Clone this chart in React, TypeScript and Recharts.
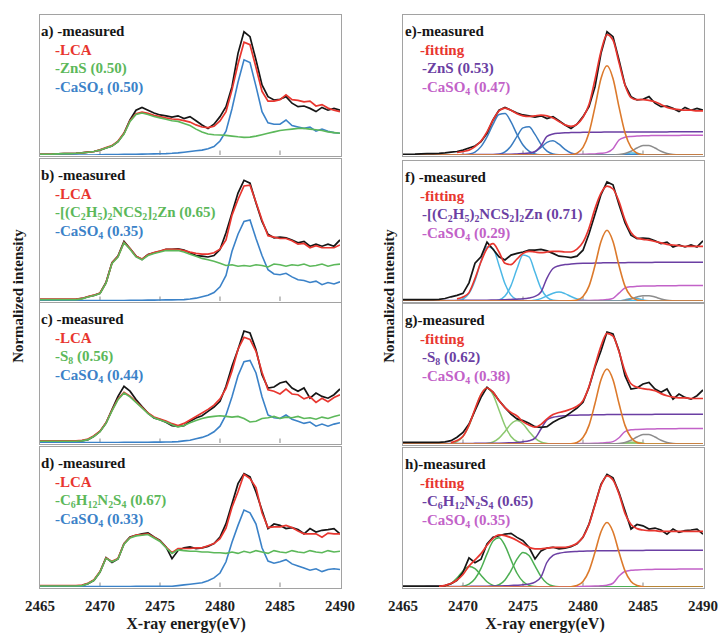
import React from 'react';
import { LineChart, Line, XAxis, YAxis, ReferenceLine } from 'recharts';

// ---------- shared energy grid (eV) ----------
const energy = [
  2465, 2465.5, 2466, 2466.5, 2467, 2467.5, 2468, 2468.5, 2469, 2469.5,
  2470, 2470.5, 2471, 2471.5, 2472, 2472.5, 2473, 2473.5, 2474, 2474.5,
  2475, 2475.5, 2476, 2476.5, 2477, 2477.5, 2478, 2478.5, 2479, 2479.5,
  2480, 2480.5, 2481, 2481.5, 2482, 2482.5, 2483, 2483.5, 2484, 2484.5,
  2485, 2485.5, 2486, 2486.5, 2487, 2487.5, 2488, 2488.5, 2489, 2489.5,
  2490,
];
const energyTicks = [2465, 2470, 2475, 2480, 2485, 2490];
const innerTicks = [2470, 2475, 2480, 2485];

// ---------- sample 1: ZnS + CaSO4 ----------
const measuredA = [
  0.5, 0.5, 0.6, 0.8, 1.0, 1.0, 1.2, 1.5, 2.0, 2.5,
  3.5, 5.0, 6.4, 9.5, 15.5, 25.0, 32.0, 34.0, 32.0, 30.0,
  28.6, 28.0, 27.0, 28.0, 26.0, 27.4, 24.5, 21.4, 19.0, 22.0,
  27.4, 34.5, 48.8, 72.6, 88.0, 84.5, 67.8, 50.0, 41.7, 39.3,
  39.8, 41.7, 37.0, 34.5, 35.0, 33.3, 31.0, 34.0, 32.0, 33.3,
  32.0,
];
const lcaA = [
  0.5, 0.5, 0.6, 0.8, 1.0, 1.0, 1.2, 1.5, 2.0, 2.5,
  3.7, 5.3, 6.7, 9.9, 15.5, 24.5, 29.5, 30.6, 29.7, 28.3,
  27.4, 26.5, 25.7, 25.5, 24.5, 23.5, 21.5, 20.0, 19.5, 20.5,
  24.3, 31.0, 46.5, 65.0, 80.6, 78.8, 62.5, 45.5, 38.5, 38.5,
  39.5, 43.0, 39.5, 39.0, 38.0, 38.5, 35.0, 36.0, 33.5, 32.0,
  31.0,
];
const zincSulfideA = [
  0.5, 0.5, 0.6, 0.8, 1.0, 1.0, 1.2, 1.5, 2.0, 2.5,
  3.5, 5.0, 6.4, 9.5, 15.0, 24.0, 29.0, 30.0, 29.0, 27.5,
  26.5, 25.5, 24.5, 24.0, 22.5, 21.0, 18.5, 16.5, 15.0, 14.5,
  14.3, 14.0, 13.5, 13.0, 12.6, 12.8, 13.5, 14.5, 15.5, 16.5,
  17.5, 18.0, 18.5, 19.0, 19.0, 18.5, 18.0, 17.5, 16.5, 16.0,
  15.5,
];
const gypsumA = [
  0, 0, 0, 0, 0, 0, 0, 0, 0, 0,
  0.2, 0.3, 0.3, 0.4, 0.5, 0.5, 0.5, 0.6, 0.7, 0.8,
  0.9, 1.0, 1.2, 1.5, 2.0, 2.5, 3.0, 3.5, 4.5, 6.0,
  10.0, 17.0, 33.0, 52.0, 68.0, 66.0, 49.0, 31.0, 23.0, 22.0,
  22.0, 25.0, 21.0, 20.0, 19.0, 20.0, 17.0, 18.5, 17.0, 16.0,
  15.5,
];

// ---------- sample 2: zinc diethyldithiocarbamate + CaSO4 ----------
const measuredB = [
  1.0, 1.0, 1.0, 1.0, 1.0, 1.0, 1.2, 1.8, 3.0, 4.0,
  5.5, 13.0, 27.0, 31.6, 42.0, 37.0, 31.6, 29.3, 32.8, 34.0,
  35.0, 36.3, 36.3, 36.8, 35.8, 34.0, 32.0, 31.6, 31.0, 32.0,
  36.3, 48.0, 62.0, 76.0, 85.0, 83.0, 69.0, 56.0, 47.0, 44.5,
  45.0, 44.5, 43.0, 41.0, 42.0, 38.6, 40.0, 38.6, 40.0, 38.6,
  43.0,
];
const lcaB = [
  1.3, 1.3, 1.3, 1.3, 1.3, 1.3, 1.3, 1.8, 3.1, 4.1,
  5.6, 12.8, 26.8, 31.4, 41.4, 37.0, 31.5, 29.5, 32.6, 34.1,
  35.2, 36.3, 36.3, 36.4, 35.5, 34.4, 33.5, 33.0, 33.0, 34.0,
  36.5, 43.0, 60.5, 71.5, 81.0, 81.5, 69.5, 57.0, 46.0, 45.0,
  44.0, 44.0, 42.5, 40.0, 40.5, 37.5, 39.0, 37.5, 37.5, 37.5,
  39.5,
];
const zincDtcB = [
  1.0, 1.0, 1.0, 1.0, 1.0, 1.0, 1.0, 1.5, 2.8, 3.8,
  5.3, 12.5, 26.5, 31.0, 41.0, 36.5, 31.0, 29.0, 32.0, 33.5,
  34.5, 35.5, 35.5, 35.5, 34.5, 33.0, 31.5, 30.0, 29.0, 28.0,
  26.5, 25.0, 25.5, 24.5, 25.0, 24.5, 25.5, 25.0, 24.0, 26.0,
  25.5, 24.5, 25.5, 25.0, 26.0, 24.5, 25.0, 26.0, 24.5, 25.5,
  26.0,
];
const gypsumB = [
  0.3, 0.3, 0.3, 0.3, 0.3, 0.3, 0.3, 0.3, 0.3, 0.3,
  0.3, 0.3, 0.3, 0.4, 0.4, 0.5, 0.5, 0.5, 0.6, 0.6,
  0.7, 0.8, 0.8, 0.9, 1.0, 1.4, 2.0, 3.0, 4.0, 6.0,
  10.0, 18.0, 35.0, 47.0, 56.0, 57.0, 44.0, 32.0, 22.0, 19.0,
  18.5, 19.5, 17.0, 15.0, 14.5, 13.0, 14.0, 11.5, 13.0, 12.0,
  13.5,
];

// ---------- sample 3: S8 + CaSO4 ----------
const measuredC = [
  1.2, 1.2, 1.2, 1.2, 1.2, 1.2, 1.2, 1.5, 2.4, 4.8,
  8.3, 14.3, 23.8, 33.3, 40.5, 37.0, 31.0, 26.0, 21.4, 17.9,
  16.7, 14.8, 12.4, 11.9, 12.4, 15.5, 17.9, 19.5, 22.6, 25.7,
  29.8, 40.5, 54.8, 66.7, 80.0, 78.6, 66.7, 48.8, 39.3, 40.0,
  42.9, 44.0, 39.3, 36.9, 39.3, 32.0, 35.7, 33.3, 32.0, 34.5,
  38.6,
];
const lcaC = [
  1.6, 1.6, 1.6, 1.6, 1.6, 1.6, 1.6, 1.9, 2.8, 5.2,
  8.4, 14.4, 23.4, 31.4, 36.2, 33.5, 29.5, 25.5, 21.5, 18.6,
  17.1, 15.7, 13.8, 12.5, 14.0, 16.5, 19.0, 21.5, 24.0, 27.0,
  31.5, 39.0, 51.5, 67.0, 75.5, 74.0, 65.5, 50.5, 38.0, 37.0,
  35.0, 38.5, 35.0, 34.5, 31.5, 33.0, 29.0, 32.0, 29.5, 32.5,
  34.5,
];
const sulfurC = [
  1.2, 1.2, 1.2, 1.2, 1.2, 1.2, 1.2, 1.5, 2.4, 4.8,
  8.0, 14.0, 23.0, 31.0, 35.7, 33.0, 29.0, 25.0, 21.0, 18.0,
  16.5, 15.0, 13.0, 11.5, 12.5, 14.5, 16.0, 17.5, 18.5, 19.0,
  19.5, 19.0, 18.5, 19.0, 17.5, 15.0, 15.5, 17.5, 18.0, 19.0,
  17.5, 18.5, 18.0, 19.0, 17.5, 18.0, 17.0, 18.5, 17.5, 19.0,
  20.0,
];
const gypsumC = [
  0.4, 0.4, 0.4, 0.4, 0.4, 0.4, 0.4, 0.4, 0.4, 0.4,
  0.4, 0.4, 0.4, 0.4, 0.5, 0.5, 0.5, 0.5, 0.5, 0.6,
  0.6, 0.7, 0.8, 1.0, 1.5, 2.0, 3.0, 4.0, 5.5, 8.0,
  12.0, 20.0, 33.0, 48.0, 58.0, 59.0, 50.0, 33.0, 20.0, 18.0,
  17.5, 20.0, 17.0, 15.5, 14.0, 15.0, 12.0, 13.5, 12.0, 13.5,
  14.5,
];

// ---------- sample 4: C6H12N2S4 + CaSO4 ----------
const measuredD = [
  0.7, 0.7, 0.7, 0.7, 0.7, 0.7, 0.7, 1.0, 2.4, 4.8,
  10.7, 21.0, 17.5, 20.0, 31.0, 35.7, 36.9, 38.0, 38.6, 35.7,
  33.3, 28.6, 20.2, 26.0, 28.0, 28.6, 27.4, 28.0, 29.0, 31.0,
  35.7, 45.2, 59.5, 73.8, 81.0, 78.6, 67.9, 54.8, 41.7, 45.0,
  44.0, 41.7, 42.4, 41.0, 38.0, 41.7, 39.3, 40.5, 41.0, 41.7,
  38.0,
];
const lcaD = [
  1.0, 1.0, 1.0, 1.0, 1.0, 1.0, 1.0, 1.3, 2.7, 5.1,
  11.0, 20.8, 18.3, 20.4, 30.9, 35.4, 37.0, 37.5, 38.0, 35.5,
  33.0, 28.5, 24.5, 27.5, 27.5, 27.5, 28.0, 28.0, 29.5, 31.0,
  34.5, 42.0, 57.0, 68.0, 80.5, 77.5, 71.0, 53.0, 42.5, 43.0,
  43.0, 44.0, 42.5, 40.0, 38.0, 38.0, 38.0, 35.5, 38.5, 38.0,
  38.0,
];
const dithiaD = [
  0.7, 0.7, 0.7, 0.7, 0.7, 0.7, 0.7, 1.0, 2.4, 4.8,
  10.7, 20.5, 18.0, 20.0, 30.5, 35.0, 36.5, 37.0, 37.5, 35.0,
  32.5, 28.0, 24.0, 26.5, 26.0, 25.5, 25.5, 25.0, 25.0, 24.5,
  24.5, 24.0, 25.0, 24.0, 25.5, 24.5, 26.0, 25.0, 24.0, 26.0,
  25.0, 24.5, 26.0, 25.0, 24.5, 26.0, 25.0, 24.5, 26.0, 25.0,
  25.5,
];
const gypsumD = [
  0.3, 0.3, 0.3, 0.3, 0.3, 0.3, 0.3, 0.3, 0.3, 0.3,
  0.3, 0.3, 0.3, 0.4, 0.4, 0.4, 0.5, 0.5, 0.5, 0.5,
  0.5, 0.5, 0.5, 1.0, 1.5, 2.0, 2.5, 3.0, 4.5, 6.5,
  10.0, 18.0, 32.0, 44.0, 55.0, 53.0, 45.0, 28.0, 18.5, 17.0,
  18.0, 19.5, 16.5, 15.0, 13.5, 12.0, 13.0, 11.0, 12.5, 13.0,
  12.5,
];

// ---------- peak fitting, sample 1 ----------
const fitE = [
  null, null, null, null, null, null, null, null, null, 1.8,
  2.5, 3.5, 6.0, 10.0, 16.5, 25.0, 31.5, 33.5, 32.0, 29.5,
  28.0, 27.5, 28.0, 28.5, 28.0, 26.5, 24.0, 21.5, 20.5, 22.0,
  27.0, 36.0, 54.0, 74.0, 86.0, 82.0, 66.0, 50.0, 41.0, 39.5,
  39.5, 39.0, 38.0, 36.0, 34.0, 33.0, 32.5, 32.0, 32.0, 31.5,
  31.5,
];
const peakE1 = [
  0, 0, 0, 0, 0, 0, 0, 0, 0, 0,
  0, 0.6, 2.1, 6.0, 13.0, 21.9, 28.9, 29.6, 23.6, 14.7,
  7.1, 2.7, 0.8, 0.2, 0, 0, 0, 0, 0, 0,
  0, 0, 0, 0, 0, 0, 0, 0, 0, 0,
  0, 0, 0, 0, 0, 0, 0, 0, 0, 0,
  0,
];
const peakE2 = [
  0, 0, 0, 0, 0, 0, 0, 0, 0, 0,
  0, 0, 0, 0, 0, 0, 0.5, 2.2, 6.4, 13.3,
  19.4, 20.1, 14.7, 7.6, 2.8, 0.7, 0.1, 0, 0, 0,
  0, 0, 0, 0, 0, 0, 0, 0, 0, 0,
  0, 0, 0, 0, 0, 0, 0, 0, 0, 0,
  0,
];
const peakE3 = [
  0, 0, 0, 0, 0, 0, 0, 0, 0, 0,
  0, 0, 0, 0, 0, 0, 0, 0, 0, 0,
  0, 0.6, 2.2, 5.4, 9.0, 10.1, 7.7, 4.0, 1.4, 0.3,
  0, 0, 0, 0, 0, 0, 0, 0, 0, 0,
  0, 0, 0, 0, 0, 0, 0, 0, 0, 0,
  0,
];
const peakE4 = [
  0, 0, 0, 0, 0, 0, 0, 0, 0, 0,
  0, 0, 0, 0, 0, 0, 0, 0, 0, 0,
  0, 0, 0, 0, 0, 0, 0, 0, 0, 0,
  0, 0, 0, 0, 0, 0, 0, 0.5, 1.4, 1.2,
  0.3, 0, 0, 0, 0, 0, 0, 0, 0, 0,
  0,
];
const peakE5 = [
  0, 0, 0, 0, 0, 0, 0, 0, 0, 0,
  0, 0, 0, 0, 0, 0, 0, 0, 0, 0,
  0, 0, 0, 0, 0, 0, 0, 0, 0, 0,
  0, 0, 0, 0, 0, 0, 0.3, 1.1, 2.7, 5.0,
  6.8, 6.8, 5.0, 2.7, 1.1, 0.3, 0, 0, 0, 0,
  0,
];
const whiteLineE = [
  0, 0, 0, 0, 0, 0, 0, 0, 0, 0,
  0, 0, 0, 0, 0, 0, 0, 0, 0, 0,
  0, 0, 0, 0, 0, 0, 0, 0, 0.2, 1.3,
  5.4, 15.9, 34.4, 54.7, 63.8, 54.7, 34.4, 15.9, 5.4, 1.3,
  0.2, 0, 0, 0, 0, 0, 0, 0, 0, 0,
  0,
];
const stepE = [
  0.1, 0.1, 0.1, 0.1, 0.2, 0.2, 0.2, 0.2, 0.2, 0.2,
  0.3, 0.3, 0.3, 0.4, 0.4, 0.4, 0.5, 0.5, 0.6, 0.8,
  1.0, 1.4, 2.5, 6.6, 13.3, 15.0, 15.6, 15.9, 16.0, 16.1,
  16.2, 16.3, 16.3, 16.3, 16.4, 16.4, 16.4, 16.4, 16.5, 16.5,
  16.5, 16.5, 16.5, 16.5, 16.5, 16.6, 16.6, 16.6, 16.6, 16.6,
  16.6,
];
const stepCaE = [
  0.1, 0.1, 0.1, 0.1, 0.1, 0.1, 0.1, 0.1, 0.1, 0.1,
  0.1, 0.1, 0.1, 0.1, 0.1, 0.1, 0.1, 0.1, 0.1, 0.1,
  0.2, 0.2, 0.2, 0.2, 0.2, 0.2, 0.2, 0.2, 0.4, 0.4,
  0.5, 0.7, 0.8, 1.2, 1.9, 4.5, 10.7, 12.7, 13.3, 13.5,
  13.7, 13.8, 13.9, 13.9, 14.0, 14.0, 14.0, 14.1, 14.1, 14.1,
  14.1,
];

// ---------- peak fitting, sample 2 ----------
const fitF = [
  null, null, null, null, null, null, null, null, null, 1.5,
  2.8, 6.0, 16.0, 28.0, 37.5, 41.0, 35.0, 27.0, 26.0, 30.0,
  34.0, 35.5, 35.0, 34.5, 35.0, 35.5, 35.5, 35.0, 35.0, 37.0,
  42.0, 52.0, 66.0, 77.0, 82.0, 80.0, 71.0, 58.0, 49.0, 45.0,
  44.0, 43.5, 42.5, 41.5, 40.5, 40.0, 39.5, 39.0, 39.0, 39.0,
  39.0,
];
const peakF1 = [
  0, 0, 0, 0, 0, 0, 0, 0, 0, 0.3,
  1.4, 5.4, 14.7, 28.4, 38.7, 37.4, 25.6, 12.3, 4.2, 1.0,
  0.2, 0, 0, 0, 0, 0, 0, 0, 0, 0,
  0, 0, 0, 0, 0, 0, 0, 0, 0, 0,
  0, 0, 0, 0, 0, 0, 0, 0, 0, 0,
  0,
];
const peakF2 = [
  0, 0, 0, 0, 0, 0, 0, 0, 0, 0,
  0, 0, 0, 0, 0, 0.1, 0.8, 3.5, 11.0, 23.0,
  32.8, 31.5, 20.5, 9.0, 2.7, 0.5, 0.1, 0, 0, 0,
  0, 0, 0, 0, 0, 0, 0, 0, 0, 0,
  0, 0, 0, 0, 0, 0, 0, 0, 0, 0,
  0,
];
const peakF3 = [
  0, 0, 0, 0, 0, 0, 0, 0, 0, 0,
  0, 0, 0, 0, 0, 0, 0, 0, 0, 0,
  0, 0, 0.6, 1.7, 3.7, 5.6, 6.4, 5.3, 3.2, 1.5,
  0.5, 0.1, 0, 0, 0, 0, 0, 0, 0, 0,
  0, 0, 0, 0, 0, 0, 0, 0, 0, 0,
  0,
];
const peakF4 = [
  0, 0, 0, 0, 0, 0, 0, 0, 0, 0,
  0, 0, 0, 0, 0, 0, 0, 0, 0, 0,
  0, 0, 0, 0, 0, 0, 0, 0, 0, 0,
  0, 0, 0, 0, 0, 0, 0, 0.8, 1.8, 1.8,
  0.8, 0.2, 0, 0, 0, 0, 0, 0, 0, 0,
  0,
];
const peakF5 = [
  0, 0, 0, 0, 0, 0, 0, 0, 0, 0,
  0, 0, 0, 0, 0, 0, 0, 0, 0, 0,
  0, 0, 0, 0, 0, 0, 0, 0, 0, 0,
  0, 0, 0, 0, 0, 0, 0, 0.6, 1.5, 2.8,
  3.8, 3.8, 2.8, 1.5, 0.6, 0.2, 0, 0, 0, 0,
  0,
];
const whiteLineF = [
  0, 0, 0, 0, 0, 0, 0, 0, 0, 0,
  0, 0, 0, 0, 0, 0, 0, 0, 0, 0,
  0, 0, 0, 0, 0, 0, 0, 0, 0.1, 0.7,
  3.2, 10.6, 25.3, 42.5, 50.5, 42.5, 25.3, 10.6, 3.2, 0.7,
  0.1, 0, 0, 0, 0, 0, 0, 0, 0, 0,
  0,
];
const stepF = [
  0.3, 0.3, 0.3, 0.3, 0.3, 0.4, 0.4, 0.4, 0.4, 0.4,
  0.45, 0.5, 0.5, 0.55, 0.6, 0.7, 0.8, 0.9, 1.1, 1.3,
  1.6, 2.2, 3.3, 6.4, 16.4, 23.2, 25.2, 26.0, 26.4, 26.7,
  26.9, 27.0, 27.1, 27.2, 27.3, 27.3, 27.4, 27.4, 27.5, 27.5,
  27.5, 27.5, 27.6, 27.6, 27.6, 27.6, 27.6, 27.7, 27.7, 27.7,
  27.7,
];
const stepCaF = [
  0.1, 0.1, 0.1, 0.1, 0.1, 0.1, 0.1, 0.1, 0.1, 0.1,
  0.1, 0.1, 0.1, 0.1, 0.1, 0.1, 0.1, 0.1, 0.1, 0.1,
  0.2, 0.2, 0.2, 0.2, 0.2, 0.2, 0.2, 0.2, 0.2, 0.2,
  0.35, 0.4, 0.5, 0.7, 1.0, 1.9, 5.6, 9.3, 10.2, 10.5,
  10.7, 10.7, 10.8, 10.9, 10.9, 10.9, 11.0, 11.0, 11.0, 11.0,
  11.0,
];

// ---------- peak fitting, sample 3 ----------
const fitG = [
  null, null, null, null, null, null, null, null, 1.0, 2.5,
  5.5, 13.5, 25.0, 35.5, 40.0, 37.0, 31.0, 26.0, 22.5, 20.0,
  16.0, 13.5, 12.0, 14.0, 18.0, 21.0, 22.5, 23.5, 25.0, 27.0,
  31.0, 41.0, 56.0, 70.0, 79.0, 77.0, 66.0, 52.0, 43.0, 40.5,
  39.5, 39.0, 38.0, 36.0, 34.5, 33.5, 33.0, 33.0, 32.5, 32.5,
  32.5,
];
const peakG1 = [
  0, 0, 0, 0, 0, 0, 0, 0, 0.4, 1.8,
  5.4, 13.0, 24.3, 35.3, 40.0, 35.3, 24.3, 13.0, 5.4, 1.8,
  0.4, 0, 0, 0, 0, 0, 0, 0, 0, 0,
  0, 0, 0, 0, 0, 0, 0, 0, 0, 0,
  0, 0, 0, 0, 0, 0, 0, 0, 0, 0,
  0,
];
const peakG2 = [
  0, 0, 0, 0, 0, 0, 0, 0, 0, 0,
  0, 0, 0, 0, 0.4, 1.4, 4.2, 9.0, 14.3, 16.7,
  14.3, 9.0, 4.2, 1.4, 0.4, 0, 0, 0, 0, 0,
  0, 0, 0, 0, 0, 0, 0, 0, 0, 0,
  0, 0, 0, 0, 0, 0, 0, 0, 0, 0,
  0,
];
const peakG3 = [
  0, 0, 0, 0, 0, 0, 0, 0, 0, 0,
  0, 0, 0, 0, 0, 0, 0, 0, 0, 0,
  0, 0, 0, 0, 0, 0, 0, 0, 0, 0,
  0, 0, 0, 0, 0, 0, 0, 0.5, 1.3, 1.3,
  0.5, 0, 0, 0, 0, 0, 0, 0, 0, 0,
  0,
];
const peakG4 = [
  0, 0, 0, 0, 0, 0, 0, 0, 0, 0,
  0, 0, 0, 0, 0, 0, 0, 0, 0, 0,
  0, 0, 0, 0, 0, 0, 0, 0, 0, 0,
  0, 0, 0, 0, 0, 0, 0.3, 1.1, 2.7, 5.0,
  6.8, 6.8, 5.0, 2.7, 1.1, 0.3, 0, 0, 0, 0,
  0,
];
const whiteLineG = [
  0, 0, 0, 0, 0, 0, 0, 0, 0, 0,
  0, 0, 0, 0, 0, 0, 0, 0, 0, 0,
  0, 0, 0, 0, 0, 0, 0, 0, 0.2, 1.1,
  4.6, 13.3, 28.9, 45.9, 53.6, 45.9, 28.9, 13.3, 4.6, 1.1,
  0.2, 0, 0, 0, 0, 0, 0, 0, 0, 0,
  0,
];
const stepG = [
  0.2, 0.2, 0.2, 0.2, 0.3, 0.3, 0.3, 0.3, 0.3, 0.35,
  0.4, 0.4, 0.45, 0.5, 0.5, 0.55, 0.6, 0.7, 0.9, 1.1,
  1.6, 2.3, 4.2, 10.7, 17.2, 19.1, 19.8, 20.2, 20.5, 20.6,
  20.7, 20.8, 20.9, 20.9, 21.0, 21.0, 21.0, 21.0, 21.1, 21.1,
  21.1, 21.1, 21.2, 21.2, 21.2, 21.2, 21.2, 21.2, 21.2, 21.2,
  21.2,
];
const stepCaG = [
  0.1, 0.1, 0.1, 0.1, 0.1, 0.1, 0.1, 0.1, 0.1, 0.1,
  0.1, 0.1, 0.1, 0.1, 0.1, 0.1, 0.1, 0.1, 0.1, 0.1,
  0.2, 0.2, 0.2, 0.2, 0.2, 0.2, 0.2, 0.2, 0.2, 0.2,
  0.35, 0.4, 0.5, 0.7, 1.0, 1.7, 4.5, 8.9, 10.1, 10.4,
  10.6, 10.7, 10.8, 10.9, 10.9, 10.9, 11.0, 11.0, 11.0, 11.0,
  11.0,
];

// ---------- peak fitting, sample 4 ----------
const fitH = [
  null, null, null, null, null, null, 0.5, 1.2, 2.5, 5.0,
  9.0, 15.0, 19.5, 24.0, 30.0, 35.0, 37.5, 37.0, 35.5, 33.5,
  31.0, 28.5, 27.5, 27.5, 28.0, 28.5, 28.5, 28.5, 29.5, 31.5,
  36.0, 45.0, 59.0, 73.0, 80.0, 77.0, 67.0, 53.0, 45.0, 42.0,
  41.0, 40.5, 40.5, 40.0, 40.0, 40.0, 40.0, 40.0, 40.0, 40.0,
  40.0,
];
const peakH1 = [
  0, 0, 0, 0, 0, 0, 0, 0.7, 2.5, 6.4,
  11.5, 14.7, 13.2, 8.5, 3.8, 1.2, 0.3, 0, 0, 0,
  0, 0, 0, 0, 0, 0, 0, 0, 0, 0,
  0, 0, 0, 0, 0, 0, 0, 0, 0, 0,
  0, 0, 0, 0, 0, 0, 0, 0, 0, 0,
  0,
];
const peakH2 = [
  0, 0, 0, 0, 0, 0, 0, 0, 0, 0,
  0.5, 2.0, 5.9, 13.4, 23.8, 33.0, 35.5, 29.8, 19.5, 9.9,
  3.9, 1.2, 0.3, 0, 0, 0, 0, 0, 0, 0,
  0, 0, 0, 0, 0, 0, 0, 0, 0, 0,
  0, 0, 0, 0, 0, 0, 0, 0, 0, 0,
  0,
];
const peakH3 = [
  0, 0, 0, 0, 0, 0, 0, 0, 0, 0,
  0, 0, 0, 0, 0, 0.4, 1.6, 5.1, 11.8, 20.0,
  24.8, 22.6, 15.2, 7.5, 2.7, 0.7, 0.1, 0, 0, 0,
  0, 0, 0, 0, 0, 0, 0, 0, 0, 0,
  0, 0, 0, 0, 0, 0, 0, 0, 0, 0,
  0,
];
const whiteLineH = [
  0, 0, 0, 0, 0, 0, 0, 0, 0, 0,
  0, 0, 0, 0, 0, 0, 0, 0, 0, 0,
  0, 0, 0, 0, 0, 0, 0, 0, 0.2, 1.0,
  3.9, 11.6, 25.0, 39.8, 46.4, 39.8, 25.0, 11.6, 3.9, 1.0,
  0.2, 0, 0, 0, 0, 0, 0, 0, 0, 0,
  0,
];
const stepH = [
  0.2, 0.2, 0.2, 0.2, 0.3, 0.3, 0.3, 0.3, 0.3, 0.35,
  0.4, 0.45, 0.5, 0.5, 0.6, 0.65, 0.7, 0.85, 1.1, 1.3,
  1.6, 2.2, 3.5, 7.3, 17.8, 22.7, 24.3, 25.0, 25.4, 25.6,
  25.8, 25.9, 26.0, 26.0, 26.1, 26.1, 26.2, 26.2, 26.3, 26.3,
  26.3, 26.4, 26.4, 26.4, 26.4, 26.4, 26.4, 26.5, 26.5, 26.5,
  26.5,
];
const stepCaH = [
  0.1, 0.1, 0.1, 0.1, 0.1, 0.1, 0.1, 0.1, 0.1, 0.1,
  0.1, 0.1, 0.1, 0.1, 0.1, 0.1, 0.1, 0.1, 0.1, 0.1,
  0.25, 0.25, 0.25, 0.25, 0.25, 0.25, 0.25, 0.25, 0.25, 0.25,
  0.4, 0.5, 0.65, 0.9, 1.3, 2.7, 7.9, 11.2, 12.0, 12.3,
  12.5, 12.6, 12.7, 12.8, 12.8, 12.8, 12.9, 12.9, 12.9, 12.9,
  12.9,
];

// ---------- styling ----------
const SERIF = '"Liberation Serif", "Times New Roman", serif';
const INK = '#161616';
const RED = '#e8362f';
const GREEN = '#5cb85a';
const BLUE = '#3b82c8';
const FIT_BLUE = '#3a7cc0';
const SKY = '#4cb8e6';
const LIME = '#8cc870';
const LEAF = '#4cae52';
const PURPLE = '#6b3fa3';
const MAGENTA = '#c262c8';
const ORANGE = '#dc7a2c';
const GRAY = '#8d8d8d';
const FRAME = '#a2a2a2';

type Series = {
  key: string;
  values: (number | null)[];
  color: string;
  width: number;
  smooth?: boolean;
};
type LegendLine = { text: string; color: string };

function Chem({ text }: { text: string }) {
  const parts = text.split(/_(\d+)/);
  return (
    <>
      {parts.map((p, i) =>
        i % 2 === 1 ? (
          <sub key={i} style={{ fontSize: '0.66em', verticalAlign: '-0.3em', lineHeight: 0 }}>
            {p}
          </sub>
        ) : (
          <React.Fragment key={i}>{p}</React.Fragment>
        )
      )}
    </>
  );
}

type PanelProps = {
  x: number;
  y: number;
  h: number;
  bottom: boolean;
  indents: number[];
  legend: LegendLine[];
  series: Series[];
};

function Panel({ x, y, h, bottom, indents, legend, series }: PanelProps) {
  const data = energy.map((e, i) => {
    const row: Record<string, number | null> = { e };
    series.forEach((s) => {
      row[s.key] = s.values[i];
    });
    return row;
  });
  const pad = 24;
  const axisH = bottom ? 34 : 0;
  return (
    <>
      <div
        style={{
          position: 'absolute',
          left: x - 1.5,
          top: y - 1.5,
          width: 303,
          height: h + 3,
          border: `1.5px solid ${FRAME}`,
          boxSizing: 'border-box',
        }}
      />
      <div style={{ position: 'absolute', left: x - pad, top: y }}>
        <LineChart
          width={300 + 2 * pad}
          height={h + axisH}
          data={data}
          margin={{ top: 0, right: pad, bottom: 0, left: pad }}
        >
          <XAxis
            dataKey="e"
            type="number"
            domain={[2465, 2490]}
            ticks={energyTicks}
            interval={0}
            hide={!bottom}
            height={axisH}
            axisLine={false}
            tickLine={false}
            tickSize={0}
            tickMargin={13}
            allowDataOverflow
            tick={{ fontFamily: SERIF, fontWeight: 700, fontSize: 15, fill: '#1e1e1e' }}
          />
          <YAxis hide domain={[0, 100]} allowDataOverflow />
          {innerTicks.map((t) => (
            <ReferenceLine
              key={t}
              segment={[
                { x: t, y: 0 },
                { x: t, y: 3.2 },
              ]}
              stroke={FRAME}
              strokeWidth={1.3}
            />
          ))}
          {series.map((s) => (
            <Line
              key={s.key}
              dataKey={s.key}
              type={s.smooth ? 'monotone' : 'linear'}
              stroke={s.color}
              strokeWidth={s.width}
              dot={false}
              activeDot={false}
              connectNulls={false}
              isAnimationActive={false}
            />
          ))}
        </LineChart>
      </div>
      <div
        style={{
          position: 'absolute',
          left: x,
          top: y + 7,
          fontFamily: SERIF,
          fontWeight: 700,
          fontSize: 15,
          lineHeight: '18.5px',
          whiteSpace: 'nowrap',
        }}
      >
        {legend.map((l, i) => (
          <div key={i} style={{ color: l.color, marginLeft: indents[Math.min(i, 2)] }}>
            <Chem text={l.text} />
          </div>
        ))}
      </div>
    </>
  );
}

const LEFT_X = 40;
const RIGHT_X = 403;
const leftIndents = [1, 15, 15];
const rightIndents = [2, 17, 19];

const lcaSeries = (
  measured: number[],
  lca: number[],
  reference: number[],
  gypsum: number[]
): Series[] => [
  { key: 'measured', values: measured, color: INK, width: 1.7 },
  { key: 'lca', values: lca, color: RED, width: 1.7 },
  { key: 'gypsum', values: gypsum, color: BLUE, width: 1.6 },
  { key: 'reference', values: reference, color: GREEN, width: 1.6 },
];

const panels: PanelProps[] = [
  {
    x: LEFT_X, y: 15, h: 140, bottom: false, indents: leftIndents,
    legend: [
      { text: 'a) -measured', color: INK },
      { text: '-LCA', color: RED },
      { text: '-ZnS (0.50)', color: GREEN },
      { text: '-CaSO_4 (0.50)', color: BLUE },
    ],
    series: lcaSeries(measuredA, lcaA, zincSulfideA, gypsumA),
  },
  {
    x: LEFT_X, y: 159, h: 142, bottom: false, indents: leftIndents,
    legend: [
      { text: 'b) -measured', color: INK },
      { text: '-LCA', color: RED },
      { text: '-[(C_2H_5)_2NCS_2]_2Zn (0.65)', color: GREEN },
      { text: '-CaSO_4 (0.35)', color: BLUE },
    ],
    series: lcaSeries(measuredB, lcaB, zincDtcB, gypsumB),
  },
  {
    x: LEFT_X, y: 303, h: 140, bottom: false, indents: leftIndents,
    legend: [
      { text: 'c) -measured', color: INK },
      { text: '-LCA', color: RED },
      { text: '-S_8 (0.56)', color: GREEN },
      { text: '-CaSO_4 (0.44)', color: BLUE },
    ],
    series: lcaSeries(measuredC, lcaC, sulfurC, gypsumC),
  },
  {
    x: LEFT_X, y: 447, h: 140, bottom: true, indents: leftIndents,
    legend: [
      { text: 'd) -measured', color: INK },
      { text: '-LCA', color: RED },
      { text: '-C_6H_12N_2S_4 (0.67)', color: GREEN },
      { text: '-CaSO_4 (0.33)', color: BLUE },
    ],
    series: lcaSeries(measuredD, lcaD, dithiaD, gypsumD),
  },
  {
    x: RIGHT_X, y: 15, h: 140, bottom: false, indents: rightIndents,
    legend: [
      { text: 'e)-measured', color: INK },
      { text: '-fitting', color: RED },
      { text: '-ZnS (0.53)', color: PURPLE },
      { text: '-CaSO_4 (0.47)', color: MAGENTA },
    ],
    series: [
      { key: 'p4', values: peakE4, color: SKY, width: 1.4, smooth: true },
      { key: 'p1', values: peakE1, color: FIT_BLUE, width: 1.5, smooth: true },
      { key: 'p2', values: peakE2, color: FIT_BLUE, width: 1.5, smooth: true },
      { key: 'p3', values: peakE3, color: FIT_BLUE, width: 1.5, smooth: true },
      { key: 'step', values: stepE, color: PURPLE, width: 1.5, smooth: true },
      { key: 'stepCa', values: stepCaE, color: MAGENTA, width: 1.5, smooth: true },
      { key: 'p5', values: peakE5, color: GRAY, width: 1.5, smooth: true },
      { key: 'white', values: whiteLineE, color: ORANGE, width: 1.6, smooth: true },
      { key: 'measured', values: measuredA, color: INK, width: 1.7 },
      { key: 'fit', values: fitE, color: RED, width: 1.7, smooth: true },
    ],
  },
  {
    x: RIGHT_X, y: 161, h: 140, bottom: false, indents: rightIndents,
    legend: [
      { text: 'f) -measured', color: INK },
      { text: '-fitting', color: RED },
      { text: '-[(C_2H_5)_2NCS_2]_2Zn (0.71)', color: PURPLE },
      { text: '-CaSO_4 (0.29)', color: MAGENTA },
    ],
    series: [
      { key: 'p1', values: peakF1, color: SKY, width: 1.5, smooth: true },
      { key: 'p2', values: peakF2, color: SKY, width: 1.5, smooth: true },
      { key: 'p3', values: peakF3, color: SKY, width: 1.5, smooth: true },
      { key: 'p4', values: peakF4, color: SKY, width: 1.4, smooth: true },
      { key: 'step', values: stepF, color: PURPLE, width: 1.5, smooth: true },
      { key: 'stepCa', values: stepCaF, color: MAGENTA, width: 1.5, smooth: true },
      { key: 'p5', values: peakF5, color: GRAY, width: 1.5, smooth: true },
      { key: 'white', values: whiteLineF, color: ORANGE, width: 1.6, smooth: true },
      { key: 'measured', values: measuredB, color: INK, width: 1.7 },
      { key: 'fit', values: fitF, color: RED, width: 1.7, smooth: true },
    ],
  },
  {
    x: RIGHT_X, y: 304, h: 140, bottom: false, indents: rightIndents,
    legend: [
      { text: 'g)-measured', color: INK },
      { text: '-fitting', color: RED },
      { text: '-S_8 (0.62)', color: PURPLE },
      { text: '-CaSO_4 (0.38)', color: MAGENTA },
    ],
    series: [
      { key: 'p1', values: peakG1, color: LIME, width: 1.5, smooth: true },
      { key: 'p2', values: peakG2, color: LIME, width: 1.5, smooth: true },
      { key: 'p3', values: peakG3, color: LIME, width: 1.4, smooth: true },
      { key: 'step', values: stepG, color: PURPLE, width: 1.5, smooth: true },
      { key: 'stepCa', values: stepCaG, color: MAGENTA, width: 1.5, smooth: true },
      { key: 'p4', values: peakG4, color: GRAY, width: 1.5, smooth: true },
      { key: 'white', values: whiteLineG, color: ORANGE, width: 1.6, smooth: true },
      { key: 'measured', values: measuredC, color: INK, width: 1.7 },
      { key: 'fit', values: fitG, color: RED, width: 1.7, smooth: true },
    ],
  },
  {
    x: RIGHT_X, y: 448, h: 139, bottom: true, indents: rightIndents,
    legend: [
      { text: 'h)-measured', color: INK },
      { text: '-fitting', color: RED },
      { text: '-C_6H_12N_2S_4 (0.65)', color: PURPLE },
      { text: '-CaSO_4 (0.35)', color: MAGENTA },
    ],
    series: [
      { key: 'p1', values: peakH1, color: LEAF, width: 1.5, smooth: true },
      { key: 'p2', values: peakH2, color: LEAF, width: 1.5, smooth: true },
      { key: 'p3', values: peakH3, color: LEAF, width: 1.5, smooth: true },
      { key: 'step', values: stepH, color: PURPLE, width: 1.5, smooth: true },
      { key: 'stepCa', values: stepCaH, color: MAGENTA, width: 1.5, smooth: true },
      { key: 'white', values: whiteLineH, color: ORANGE, width: 1.6, smooth: true },
      { key: 'measured', values: measuredD, color: INK, width: 1.7 },
      { key: 'fit', values: fitH, color: RED, width: 1.7, smooth: true },
    ],
  },
];

const labelStyle: React.CSSProperties = {
  position: 'absolute',
  fontFamily: SERIF,
  fontWeight: 700,
  fontSize: 16,
  color: '#1a1a1a',
  whiteSpace: 'nowrap',
  lineHeight: '20px',
};

export default function App() {
  return (
    <div
      style={{
        position: 'fixed',
        left: 0,
        top: 0,
        width: 718,
        height: 634,
        background: '#ffffff',
        overflow: 'hidden',
      }}
    >
      {panels.map((p, i) => (
        <Panel key={i} {...p} />
      ))}
      {[18, 389].map((cx) => (
        <div
          key={cx}
          style={{
            ...labelStyle,
            fontSize: 15,
            left: cx,
            top: 296,
            transform: 'translate(-50%, -50%) rotate(-90deg)',
          }}
        >
          Normalized intensity
        </div>
      ))}
      {[186, 545].map((cx) => (
        <div
          key={cx}
          style={{ ...labelStyle, left: cx, top: 614, transform: 'translateX(-50%)' }}
        >
          X-ray energy(eV)
        </div>
      ))}
    </div>
  );
}
